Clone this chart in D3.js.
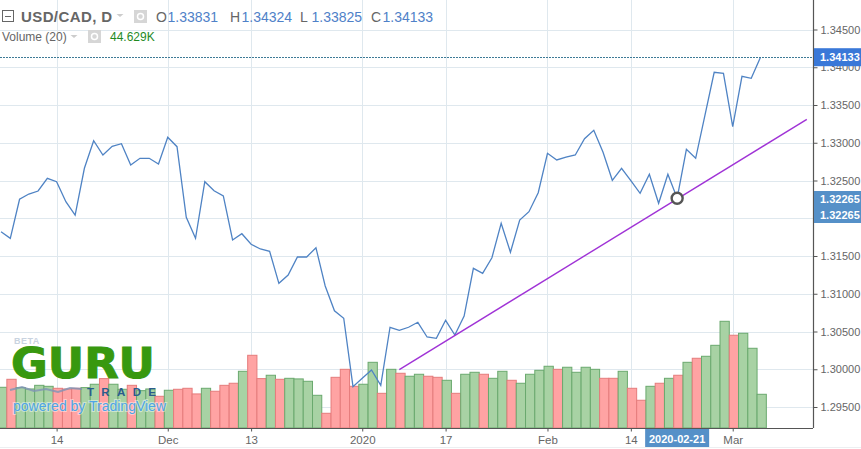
<!DOCTYPE html>
<html>
<head>
<meta charset="utf-8">
<script src="https://cdn.jsdelivr.net/npm/d3@7"></script>
<style>
html, body { margin: 0; padding: 0; background: #fff; overflow: hidden; }
svg { display: block; font-family: "Liberation Sans", Arial, sans-serif; }
</style>
</head>
<body>
<svg></svg>
<script>
// closes, one per trading day
const closes = [1.31822, 1.31734, 1.32251, 1.32321, 1.32361, 1.32529, 1.32484, 1.32219, 1.32043, 1.32662,
    1.33027, 1.32838, 1.32953, 1.32987, 1.32705, 1.32794, 1.32794, 1.32719, 1.33072, 1.32948,
    1.32013, 1.31734, 1.32484, 1.32365, 1.32295, 1.31712, 1.31795, 1.31655, 1.31593, 1.31562,
    1.31138, 1.31248, 1.31487, 1.31487, 1.3161, 1.31103, 1.30775, 1.30675, 1.29769, 1.2988,
    1.2999, 1.29787, 1.30556, 1.30516, 1.30556, 1.30622, 1.30427, 1.3041, 1.30648, 1.30454,
    1.30705, 1.31337, 1.31271, 1.31477, 1.31933, 1.31549, 1.31977, 1.32087, 1.32338, 1.3286,
    1.32772, 1.32811, 1.32838, 1.33054, 1.33165, 1.32874, 1.32503, 1.32662, 1.32497, 1.3233,
    1.32582, 1.32198, 1.32582, 1.32265, 1.32913, 1.32794, 1.33364, 1.33933, 1.3392, 1.33213,
    1.3388, 1.33854, 1.34133]
// volume in K
const volumes = [53.8, 64.3, 53.4, 51.6, 56.4, 55.1, 52.5, 51.6, 52.5, 53.4,
    57.8, 65.2, 57.8, 51.2, 56.4, 49.4, 51.6, 42.0, 49.9, 51.2,
    52.5, 45.1, 52.5, 48.6, 56.4, 59.1, 74.8, 95.8, 65.2, 69.6,
    64.3, 65.6, 64.8, 61.7, 43.3, 19.7, 66.9, 77.4, 55.1, 57.8,
    86.6, 45.9, 77.4, 72.2, 68.3, 70.9, 68.3, 66.9, 63.0, 45.9,
    70.9, 73.5, 70.9, 65.6, 74.8, 63.0, 59.1, 70.9, 76.1, 81.4,
    77.4, 80.1, 73.5, 80.1, 77.4, 65.6, 65.6, 74.8, 52.5, 36.8,
    55.1, 59.1, 65.6, 69.6, 86.6, 91.9, 94.5, 108.9, 140.4, 122.1,
    124.7, 105.0, 44.629]
// bars drawn red
const downDays = [1, 6, 7, 8, 11, 14, 17, 19, 20, 21, 23, 24, 25, 27, 28, 30, 35, 36, 37, 38,
    41, 43, 46, 47, 49, 52, 55, 60, 65, 66, 68, 69, 71, 73, 75, 79]

const priceTicks = [1.295, 1.3, 1.305, 1.31, 1.315, 1.32, 1.325, 1.33, 1.335, 1.34, 1.345]
const dateTickIndex = [6, 18, 27, 39, 48, 59, 68, 79]
const dateTickLabels = ["14", "Dec", "13", "2020", "17", "Feb", "14", "Mar"]

const trendIndex = [43, 87]
const trendPrice = [1.29995, 1.3331]
const markedIndex = 73, markedPrice = 1.32265, markedDate = "2020-02-21"
const lastPrice = 1.34133, lastVolume = "44.629K"
const ohlcLabels = ["O", "H", "L", "C"]
const ohlcValues = ["1.33831", "1.34324", "1.33825", "1.34133"]

const width = 861, height = 449
const plotRight = 813, plotBottom = 428

const gridColor = "#dfe8ee", axisColor = "#555", textColor = "#666"

const svg = d3.select("svg").attr("width", width).attr("height", height)

const x = d3.scaleLinear().domain([0, 82]).range([1.04, 760.5])
const y = d3.scaleLinear().domain([1.295, 1.345]).range([407, 29.5])
const yVol = d3.scaleLinear().domain([0, 140.4]).range([plotBottom + 0.3, 321.3])
const barWidth = x(1) - x(0)

// Grid
const grid = svg.append("g")
grid.selectAll(".h").data(priceTicks).join("line")
    .attr("x1", 0).attr("x2", plotRight)
    .attr("y1", d => Math.round(y(d)) + 0.5).attr("y2", d => Math.round(y(d)) + 0.5)
    .attr("stroke", gridColor)
grid.selectAll(".v").data(dateTickIndex).join("line")
    .attr("x1", d => Math.round(x(d)) + 0.5).attr("x2", d => Math.round(x(d)) + 0.5)
    .attr("y1", 0).attr("y2", plotBottom)
    .attr("stroke", gridColor)

// Volume bars
svg.append("g").selectAll("rect").data(volumes).join("rect")
    .attr("x", (d, i) => x(i) + 1.2 - barWidth / 2)
    .attr("y", d => yVol(d))
    .attr("width", barWidth)
    .attr("height", d => plotBottom - yVol(d))
    .attr("fill", (d, i) => downDays.includes(i) ? "#ffa3a3" : "#a8d2a4")
    .attr("stroke", (d, i) => downDays.includes(i) ? "#e57c7c" : "#6aa96e")
    .attr("stroke-width", 1)

// Logo
const logo = svg.append("g")
logo.append("text").attr("x", 14).attr("y", 344).attr("font-size", 9).attr("font-weight", "bold")
    .attr("fill", "#c9d3df").attr("letter-spacing", 0.5).text("BETA")
logo.append("text").attr("x", 11).attr("y", 378).attr("font-family", "DejaVu Sans").attr("font-size", 43).attr("font-weight", "bold")
    .attr("textLength", 144).attr("lengthAdjust", "spacingAndGlyphs")
    .attr("fill", "#38980f").attr("stroke", "#38980f").attr("stroke-width", 1).text("GURU")
logo.append("path")
    .attr("d", "M10,390L22,387L34,391L46,389L58,392L70,388L82,389")
    .attr("fill", "none").attr("stroke", "#7f93b5").attr("stroke-width", 2).attr("opacity", 0.8)
logo.append("text").attr("x", 87).attr("y", 396).attr("font-size", 11.5).attr("font-weight", "bold")
    .attr("fill", "#2b5c8c").attr("textLength", 69).text("TRADE")
logo.append("text").attr("x", 13).attr("y", 411).attr("font-size", 14)
    .attr("fill", "#4ea5e6").attr("stroke", "#fff").attr("stroke-width", 2).attr("stroke-opacity", 0.45).attr("paint-order", "stroke")
    .attr("textLength", 153).attr("lengthAdjust", "spacingAndGlyphs").text("powered by TradingView")

// Price line
const line = d3.line().x((d, i) => x(i)).y(d => y(d))
svg.append("path").datum(closes).attr("d", line)
    .attr("fill", "none").attr("stroke", "#4f83c4").attr("stroke-width", 1.3)

// Trend line
svg.append("line")
    .attr("x1", x(trendIndex[0])).attr("y1", y(trendPrice[0]))
    .attr("x2", x(trendIndex[1])).attr("y2", y(trendPrice[1]))
    .attr("stroke", "#a033d6").attr("stroke-width", 1.4)

svg.append("circle").attr("cx", x(markedIndex)).attr("cy", y(markedPrice)).attr("r", 5.5)
    .attr("fill", "#fff").attr("stroke", "#555").attr("stroke-width", 2.4)

// Last price line
svg.append("line")
    .attr("x1", 0).attr("x2", plotRight)
    .attr("y1", Math.round(y(lastPrice)) + 0.5).attr("y2", Math.round(y(lastPrice)) + 0.5)
    .attr("stroke", "#3d7a96").attr("stroke-dasharray", "2 1")

// Axes
const yAxis = svg.append("g").attr("transform", `translate(${plotRight + 0.5}, 0)`)
    .call(d3.axisRight(y).tickValues(priceTicks).tickFormat(d3.format(".5f")).tickSize(4).tickPadding(3))
yAxis.selectAll("text").attr("font-family", "Liberation Sans").attr("font-size", 11).attr("fill", textColor)
yAxis.selectAll("line").attr("stroke", axisColor)
yAxis.select(".domain").attr("d", `M0,0V${plotBottom}`).attr("stroke", axisColor).attr("stroke-width", 1.2)

const xAxis = svg.append("g").attr("transform", `translate(0, ${plotBottom + 0.5})`)
    .call(d3.axisBottom(x).tickValues(dateTickIndex).tickFormat((d, i) => dateTickLabels[i]).tickSize(3).tickPadding(4))
xAxis.selectAll("text").attr("font-family", "Liberation Sans").attr("font-size", 11.5).attr("fill", textColor)
xAxis.selectAll("line").attr("stroke", axisColor)
xAxis.select(".domain").attr("d", `M0,0H${plotRight}`).attr("stroke", axisColor).attr("stroke-width", 1.2)

// Value tags on the right axis
function priceTag(cy, h, color, label, textY) {
    svg.append("rect").attr("x", plotRight + 1).attr("y", cy - h / 2).attr("width", width - plotRight).attr("height", h).attr("fill", color)
    svg.append("text").attr("x", 820).attr("y", textY).attr("font-size", 11).attr("font-weight", "bold").attr("fill", "#fff").text(label)
}
priceTag(y(lastPrice), 18, "#3a78d8", d3.format(".5f")(lastPrice), y(lastPrice) + 4)
svg.append("rect").attr("x", plotRight + 1).attr("y", 191).attr("width", width - plotRight).attr("height", 32).attr("fill", "#5590c8")
svg.selectAll(".mark").data([203, 219]).join("text")
    .attr("x", 820).attr("y", d => d).attr("font-size", 11).attr("font-weight", "bold").attr("fill", "#fff")
    .text(d3.format(".5f")(markedPrice))

// Date tag
svg.append("rect").attr("x", x(markedIndex) - 32).attr("y", plotBottom + 1).attr("width", 64).attr("height", 19).attr("fill", "#5590c8")
svg.append("text").attr("x", x(markedIndex)).attr("y", 443).attr("text-anchor", "middle")
    .attr("font-size", 11).attr("font-weight", "bold").attr("fill", "#fff").text(markedDate)

svg.append("line").attr("x1", 0).attr("x2", width).attr("y1", 447.5).attr("y2", 447.5).attr("stroke", "#eceff1")

// Header
function eye(ex, ey) {
    svg.append("rect").attr("x", ex).attr("y", ey).attr("width", 13).attr("height", 13).attr("fill", "#d6d6d6")
    svg.append("circle").attr("cx", ex + 6.5).attr("cy", ey + 6.5).attr("r", 3).attr("fill", "none").attr("stroke", "#fff").attr("stroke-width", 1.5)
}
function caret(cx, cy) {
    svg.append("path").attr("d", `M${cx - 3.5},${cy}h7l-3.5,3z`).attr("fill", "#ccc")
}
svg.append("rect").attr("x", 2.5).attr("y", 10.5).attr("width", 11).attr("height", 11).attr("fill", "none").attr("stroke", "#666")
svg.append("line").attr("x1", 5).attr("x2", 11).attr("y1", 16.5).attr("y2", 16.5).attr("stroke", "#666")
svg.append("text").attr("x", 21).attr("y", 21.5).attr("font-size", 15).attr("font-weight", "bold")
    .attr("fill", "#666").attr("letter-spacing", 0.4).text("USD/CAD, D")
caret(120, 14)
eye(134, 10)
const ohlcX = [156, 230, 300, 371]
ohlcLabels.forEach((l, i) => {
    svg.append("text").attr("x", ohlcX[i]).attr("y", 21.5).attr("font-size", 14).attr("fill", "#666").text(l)
    svg.append("text").attr("x", ohlcX[i] + 11.5).attr("y", 21.5).attr("font-size", 14).attr("fill", "#4f81c8").text(ohlcValues[i])
})
svg.append("text").attr("x", 2).attr("y", 41).attr("font-size", 12).attr("fill", "#666").text("Volume (20)")
caret(74, 35)
eye(88, 30)
svg.append("text").attr("x", 110).attr("y", 41).attr("font-size", 12).attr("fill", "#1f8a1f").text(lastVolume)
</script>
</body>
</html>
